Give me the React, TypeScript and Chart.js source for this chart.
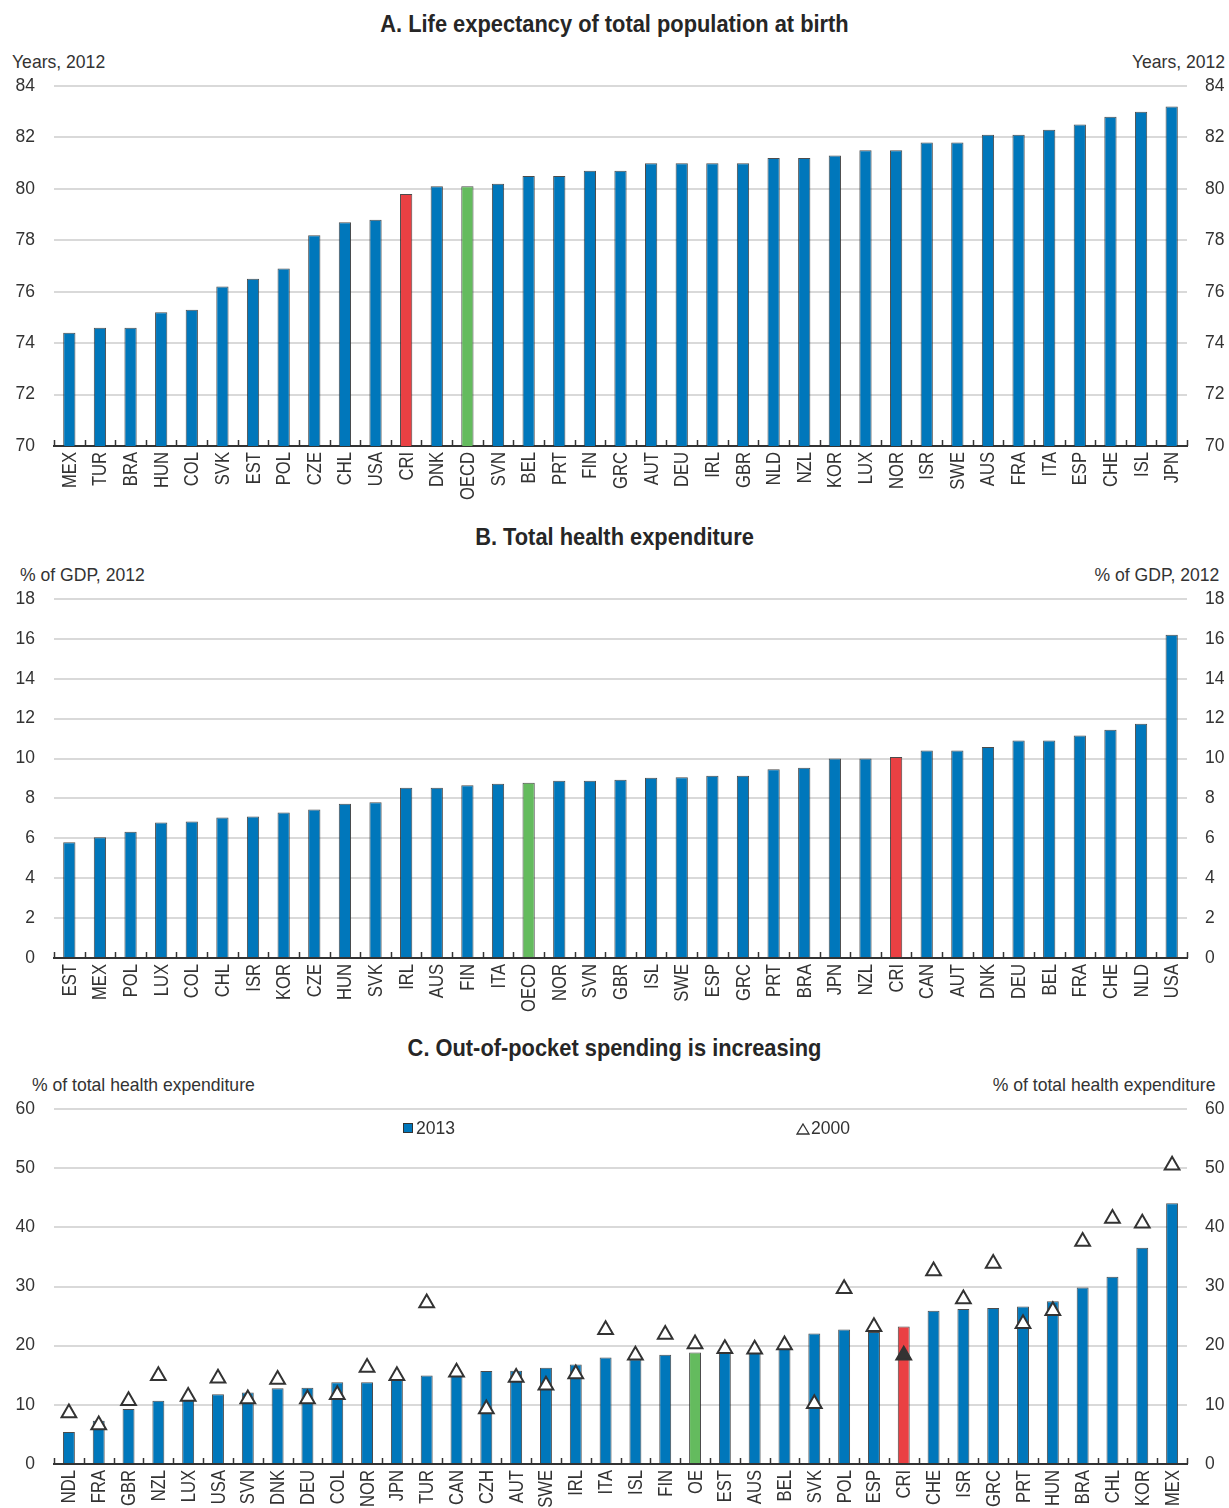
import React, { useEffect, useRef } from 'react';
import { Chart, registerables } from 'chart.js';

Chart.register(...registerables);

// ---------- DATA ----------
const catsA = ['MEX','TUR','BRA','HUN','COL','SVK','EST','POL','CZE','CHL','USA','CRI','DNK','OECD','SVN','BEL','PRT','FIN','GRC','AUT','DEU','IRL','GBR','NLD','NZL','KOR','LUX','NOR','ISR','SWE','AUS','FRA','ITA','ESP','CHE','ISL','JPN'];
const lifeExp2012 = [74.4,74.6,74.6,75.2,75.3,76.2,76.5,76.9,78.2,78.7,78.8,79.8,80.1,80.1,80.2,80.5,80.5,80.7,80.7,81.0,81.0,81.0,81.0,81.2,81.2,81.3,81.5,81.5,81.8,81.8,82.1,82.1,82.3,82.5,82.8,83.0,83.2];
const ticksA = { min: 70, max: 84, step: 2 };

const catsB = ['EST','MEX','POL','LUX','COL','CHL','ISR','KOR','CZE','HUN','SVK','IRL','AUS','FIN','ITA','OECD','NOR','SVN','GBR','ISL','SWE','ESP','GRC','PRT','BRA','JPN','NZL','CRI','CAN','AUT','DNK','DEU','BEL','FRA','CHE','NLD','USA'];
const healthExp2012 = [5.8,6.05,6.33,6.79,6.84,7.05,7.1,7.29,7.45,7.74,7.81,8.54,8.54,8.66,8.74,8.79,8.89,8.89,8.94,9.04,9.06,9.14,9.14,9.46,9.54,10.0,10.0,10.08,10.4,10.4,10.58,10.9,10.9,11.16,11.45,11.75,16.21];
const ticksB = { min: 0, max: 18, step: 2 };

const catsC = ['NDL','FRA','GBR','NZL','LUX','USA','SVN','DNK','DEU','COL','NOR','JPN','TUR','CAN','CZH','AUT','SWE','IRL','ITA','ISL','FIN','OE','EST','AUS','BEL','SVK','POL','ESP','CRI','CHE','ISR','GRC','PRT','HUN','BRA','CHL','KOR','MEX'];
const oop2013 = [5.4,7.3,9.3,10.7,10.8,11.8,12.1,12.8,12.9,13.8,13.8,14.5,14.95,14.9,15.7,15.75,16.25,16.8,18.0,17.7,18.45,18.85,18.9,18.8,19.5,22.07,22.74,22.3,23.25,25.9,26.2,26.35,26.6,27.5,29.85,31.66,36.57,44.07];
const oop2000 = [8.6,6.6,10.7,14.9,11.4,14.5,11.0,14.3,11.0,11.7,16.3,14.9,27.2,15.5,9.3,14.6,13.3,15.2,22.7,18.4,21.9,20.3,19.5,19.4,20.1,10.2,29.6,23.2,18.4,32.6,27.9,33.9,23.7,25.9,37.6,41.5,40.7,50.5];
const ticksC = { min: 0, max: 60, step: 10 };

// ---------- STYLE ----------
const W = 1229;
const BLUE = '#0077BB';
const RED = '#EA4043';
const GREEN = '#64BB5E';
const TXT = '#333333';
const SANS = "'Liberation Sans', Arial, sans-serif";
const PLOT_LEFT = 54;
const PLOT_RIGHT = 1187;
const PAD_TOP = 40;
const XAXIS_H = 60;

function barColors(cats: string[]) {
  return cats.map((c) => (c === 'CRI' ? RED : c === 'OECD' || c === 'OE' ? GREEN : BLUE));
}

// small upward ticks at category boundaries on the x axis
const boundaryTicks = {
  id: 'boundaryTicks',
  afterDraw(chart: any) {
    const xs = chart.scales.x;
    const n = chart.data.labels.length;
    const ctx = chart.ctx;
    const bottom = xs.top;
    ctx.save();
    ctx.strokeStyle = '#333';
    ctx.lineWidth = 1.5;
    for (let i = 0; i <= n; i++) {
      const x = Math.round(xs.left + (i * xs.width) / n) + 0.5;
      ctx.beginPath();
      ctx.moveTo(x, bottom);
      ctx.lineTo(x, bottom - 6);
      ctx.stroke();
    }
    ctx.restore();
  },
};

// condensed, rotated category labels placed from the x scale
const condensedLabels = {
  id: 'condensedLabels',
  afterDraw(chart: any) {
    const xs = chart.scales.x;
    const ctx = chart.ctx;
    ctx.save();
    ctx.fillStyle = TXT;
    ctx.font = `20px ${SANS}`;
    ctx.textAlign = 'right';
    ctx.textBaseline = 'middle';
    (chart.data.labels as string[]).forEach((lab, i) => {
      const x = xs.getPixelForValue(i);
      ctx.save();
      ctx.translate(x + 1, xs.top + 6);
      ctx.rotate(-Math.PI / 2);
      ctx.scale(0.83, 1);
      ctx.fillText(lab, 0, 0);
      ctx.restore();
    });
    ctx.restore();
  },
};

function makeChart(canvas: HTMLCanvasElement, cats: string[], datasets: any[], t: { min: number; max: number; step: number }) {
  const yCommon = (pos: 'left' | 'right') => ({
    position: pos,
    min: t.min,
    max: t.max,
    afterFit: (s: any) => {
      s.width = pos === 'left' ? PLOT_LEFT : W - PLOT_RIGHT;
    },
    ticks: {
      stepSize: t.step,
      padding: pos === 'left' ? 19 : 18,
      color: TXT,
      font: { family: SANS, size: 17.5 },
    },
    border: { display: false },
    grid: pos === 'left'
      ? { color: '#d9d9d9', lineWidth: 2, drawTicks: false }
      : { display: false, drawTicks: false },
  });
  return new Chart(canvas, {
    type: 'bar',
    data: { labels: cats, datasets },
    options: {
      animation: false,
      responsive: false,
      devicePixelRatio: 1,
      layout: { padding: { top: PAD_TOP, left: 0, right: 0, bottom: 0 } },
      plugins: { legend: { display: false }, tooltip: { enabled: false }, title: { display: false } },
      scales: {
        x: {
          offset: true,
          afterFit: (s: any) => {
            s.height = XAXIS_H;
          },
          grid: { display: false, drawTicks: false },
          border: { display: true, color: '#333', width: 2 },
          ticks: { display: false, autoSkip: false },
        },
        y: yCommon('left') as any,
        y2: yCommon('right') as any,
      },
    },
    plugins: [boundaryTicks, condensedLabels],
  });
}

function barDataset(values: number[], cats: string[]) {
  return {
    type: 'bar',
    label: '2013',
    data: values,
    backgroundColor: barColors(cats),
    borderColor: 'rgba(45,45,45,0.85)',
    borderWidth: 1,
    categoryPercentage: 1,
    barPercentage: 0.4,
    yAxisID: 'y',
    order: 2,
  };
}

type TxtProps = { x: number; base: number; size: number; bold?: boolean; align: 'left' | 'right' | 'center'; sx?: number; children: any };
function Txt({ x, base, size, bold, align, sx = 0.91, children }: TxtProps) {
  const style: any = {
    position: 'absolute',
    top: base - 0.8465 * size,
    fontFamily: SANS,
    fontSize: size,
    lineHeight: `${size}px`,
    fontWeight: bold ? 700 : 400,
    color: bold ? '#262626' : TXT,
    whiteSpace: 'nowrap',
    transform: `scaleX(${sx})`,
  };
  if (align === 'left') {
    style.left = x;
    style.transformOrigin = 'left top';
  } else if (align === 'right') {
    style.right = W - x;
    style.transformOrigin = 'right top';
  } else {
    style.left = 0;
    style.width = W;
    style.textAlign = 'center';
    style.transformOrigin = 'center top';
  }
  return <div style={style}>{children}</div>;
}

const PANEL_A_TOP = 86;
const PANEL_B_TOP = 599;
const PANEL_C_TOP = 1109;
const H_A = 446 - 86;
const H_B = 958 - 599;
const H_C = 1464 - 1109;
const AX_SX = 0.95;

export default function App() {
  const refA = useRef<HTMLCanvasElement>(null);
  const refB = useRef<HTMLCanvasElement>(null);
  const refC = useRef<HTMLCanvasElement>(null);

  useEffect(() => {
    const a = makeChart(refA.current!, catsA, [barDataset(lifeExp2012, catsA)], ticksA);
    const b = makeChart(refB.current!, catsB, [barDataset(healthExp2012, catsB)], ticksB);
    const c = makeChart(
      refC.current!,
      catsC,
      [
        barDataset(oop2013, catsC),
        {
          type: 'line',
          label: '2000',
          data: oop2000,
          showLine: false,
          pointStyle: 'triangle',
          pointRadius: 8.5,
          pointHoverRadius: 8.5,
          pointBorderColor: '#333',
          pointBorderWidth: 2,
          pointBackgroundColor: catsC.map((c) => (c === 'CRI' ? '#333' : '#ffffff')),
          yAxisID: 'y',
          order: 1,
        },
      ],
      ticksC
    );
    return () => {
      a.destroy();
      b.destroy();
      c.destroy();
    };
  }, []);

  const canvasStyle = (top: number, h: number): any => ({
    position: 'absolute',
    left: 0,
    top: top - PAD_TOP,
    width: W,
    height: h + PAD_TOP + XAXIS_H,
  });

  return (
    <div style={{ position: 'absolute', left: 0, top: 0, width: W, height: 1508, overflow: 'hidden', background: '#fff' }}>
      <Txt x={0} base={32.3} size={24} bold align="center">A. Life expectancy of total population at birth</Txt>
      <Txt x={12} base={68.3} size={18.5} align="left" sx={AX_SX}>Years, 2012</Txt>
      <Txt x={1225} base={68.3} size={18.5} align="right" sx={AX_SX}>Years, 2012</Txt>
      <canvas ref={refA} width={W} height={H_A + PAD_TOP + XAXIS_H} style={canvasStyle(PANEL_A_TOP, H_A)} />

      <Txt x={0} base={545.6} size={24} bold align="center">B. Total health expenditure</Txt>
      <Txt x={20} base={581.7} size={18.5} align="left" sx={AX_SX}>% of GDP, 2012</Txt>
      <Txt x={1219} base={581.7} size={18.5} align="right" sx={AX_SX}>% of GDP, 2012</Txt>
      <canvas ref={refB} width={W} height={H_B + PAD_TOP + XAXIS_H} style={canvasStyle(PANEL_B_TOP, H_B)} />

      <Txt x={0} base={1056.6} size={24} bold align="center">C. Out-of-pocket spending is increasing</Txt>
      <Txt x={32} base={1091.7} size={18.5} align="left" sx={AX_SX}>% of total health expenditure</Txt>
      <Txt x={1215} base={1091.7} size={18.5} align="right" sx={AX_SX}>% of total health expenditure</Txt>
      <canvas ref={refC} width={W} height={H_C + PAD_TOP + XAXIS_H} style={canvasStyle(PANEL_C_TOP, H_C)} />

      <div style={{ position: 'absolute', left: 403, top: 1123, width: 10, height: 10, background: BLUE, border: '0.5px solid #333', boxSizing: 'border-box' }} />
      <Txt x={416} base={1135} size={18.5} align="left" sx={AX_SX}>2013</Txt>
      <svg style={{ position: 'absolute', left: 796, top: 1123 }} width={14} height={12}>
        <polygon points="7,1 13,11 1,11" fill="#fff" stroke="#333" strokeWidth={1.3} />
      </svg>
      <Txt x={811} base={1135} size={18.5} align="left" sx={AX_SX}>2000</Txt>
    </div>
  );
}
